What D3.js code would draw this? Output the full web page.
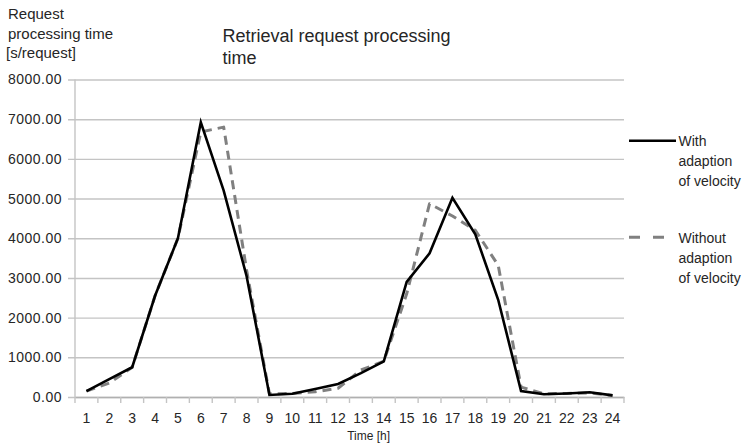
<!DOCTYPE html>
<html>
<head>
<meta charset="utf-8">
<script src="https://cdn.jsdelivr.net/npm/d3@7/dist/d3.min.js"></script>
<style>
  html, body { margin: 0; padding: 0; background: #fff; }
  svg { display: block; }
  text { font-family: "Liberation Sans", Arial, sans-serif; fill: #262626; }
</style>
</head>
<body>
<svg id="chart" width="751" height="447"></svg>
<script>
// ---- data ----
const hours = ["1","2","3","4","5","6","7","8","9","10","11","12","13","14","15","16","17","18","19","20","21","22","23","24"];
const withAdaption    = [150, 450, 750, 2550, 4000, 6920, 5200, 3050, 50, 80, 200, 330, 600, 900, 2900, 3620, 5020, 4100, 2450, 150, 70, 90, 120, 40];
const withoutAdaption = [150, 350, 750, 2550, 4000, 6680, 6800, 3200, 80, 90, 130, 220, 680, 900, 2600, 4870, 4560, 4200, 3320, 250, 80, 90, 100, 40];
const yTicks = [0, 1000, 2000, 3000, 4000, 5000, 6000, 7000, 8000];
const titleLines = ["Retrieval request processing", "time"];
const yTitleLines = ["Request", "processing time", "[s/request]"];
const xTitle = "Time [h]";
const legendItems = [
  { lines: ["With", "adaption", "of velocity"], color: "#000000", dash: null },
  { lines: ["Without", "adaption", "of velocity"], color: "#808080", dash: "11,13" }
];

// ---- layout ----
const svg = d3.select("#chart");
const pLeft = 75, pRight = 624, pTop = 79.5, pBottom = 397;

const x = d3.scaleBand().domain(hours).range([pLeft, pRight]).padding(0);
const y = d3.scaleLinear().domain([0, 8000]).range([pBottom, pTop]);
const cx = h => x(h) + x.bandwidth() / 2;

// gridlines + y labels
const yAxis = d3.axisRight(y).tickValues(yTicks).tickFormat(d3.format(".2f"))
  .tickSize(-(pRight - 68)).tickPadding(0);
const gy = svg.append("g").attr("transform", `translate(${pRight},0)`).call(yAxis);
gy.select(".domain").remove();
gy.selectAll(".tick line").attr("stroke", "#c4c4c4").attr("stroke-width", 1.4);
gy.selectAll(".tick text").attr("text-anchor", "end").attr("x", -(pRight - 62))
  .style("font-size", "14px").style("letter-spacing", "0.5px").attr("fill", "#262626");

// y axis line
svg.append("line").attr("x1", pLeft).attr("x2", pLeft).attr("y1", y(8000)).attr("y2", y(0))
  .attr("stroke", "#c4c4c4").attr("stroke-width", 1.4);

// x axis labels
const xAxis = d3.axisBottom(x).tickSize(0).tickPadding(16);
const gx = svg.append("g").attr("transform", `translate(0,${pBottom})`).call(xAxis);
gx.select(".domain").attr("stroke", "#b0b0b0").attr("stroke-width", 1.4);
gx.selectAll(".tick text").style("font-size", "14px").attr("fill", "#262626");

// x tick marks at category boundaries
const bounds = hours.map(h => x(h)).concat([pRight]);
svg.append("g").selectAll("line").data(bounds).join("line")
  .attr("x1", d => d).attr("x2", d => d).attr("y1", pBottom).attr("y2", pBottom + 6)
  .attr("stroke", "#c4c4c4").attr("stroke-width", 1.4);

// lines
const line = d3.line().x((d, i) => cx(hours[i])).y(d => y(d));
svg.append("path").datum(withoutAdaption).attr("d", line)
  .attr("fill", "none").attr("stroke", "#808080").attr("stroke-width", 3)
  .attr("stroke-dasharray", "9,6").attr("stroke-linejoin", "round");
svg.append("path").datum(withAdaption).attr("d", line)
  .attr("fill", "none").attr("stroke", "#000").attr("stroke-width", 2.6)
  .attr("stroke-linejoin", "miter");

// title
svg.append("text").attr("x", 222.5).attr("y", 42.3).style("font-size", "18px")
  .selectAll("tspan").data(titleLines).join("tspan")
  .attr("x", 222.5).attr("dy", (d, i) => i === 0 ? 0 : 22).text(d => d);

// y title
svg.append("text").attr("x", 7).attr("y", 19.3).style("font-size", "15px")
  .selectAll("tspan").data(yTitleLines).join("tspan")
  .attr("x", (d, i) => i === 2 ? 6 : 8).attr("dy", (d, i) => i === 0 ? 0 : 19.5).text(d => d);

// x title
svg.append("text").attr("x", 368.7).attr("y", 439.5).attr("text-anchor", "middle")
  .style("font-size", "12px").text(xTitle);

// legend
const legendY = [140.7, 237.3];
legendItems.forEach((item, k) => {
  const g = svg.append("g");
  const ly = legendY[k];
  const seg = g.append("line").attr("x1", 629).attr("x2", item.dash ? 665 : 676)
    .attr("y1", ly).attr("y2", ly)
    .attr("stroke", item.color).attr("stroke-width", item.dash ? 3 : 2.6);
  if (item.dash) seg.attr("stroke-dasharray", item.dash);
  g.append("text").attr("y", ly + 5.3).style("font-size", "14px")
    .selectAll("tspan").data(item.lines).join("tspan")
    .attr("x", 678.5).attr("dy", (d, i) => i === 0 ? 0 : 20).text(d => d);
});
</script>
</body>
</html>
